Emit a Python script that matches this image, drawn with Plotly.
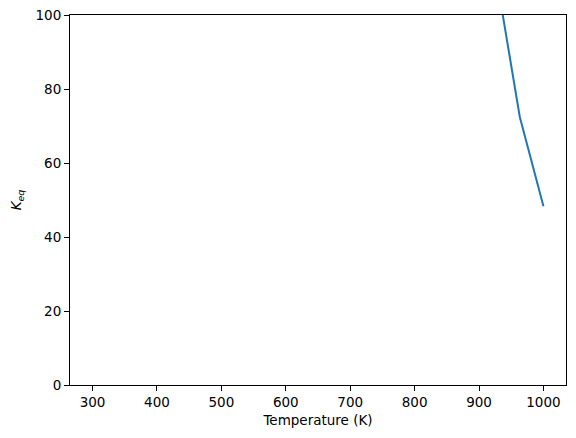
import plotly.graph_objects as go

# visible part of the Keq curve (earlier points are above the y limit)
temperature = [926.3, 963.2, 1000.0]
keq = [111.0, 72.5, 48.3]

x_ticks = [300, 400, 500, 600, 700, 800, 900, 1000]
y_ticks = [0, 20, 40, 60, 80, 100]

fig = go.Figure(go.Scatter(
    x=temperature,
    y=keq,
    mode='lines',
    line=dict(color='#1f77b4', width=2),
    showlegend=False,
))

axis_style = dict(
    showline=True,
    linecolor='black',
    linewidth=1,
    mirror=True,
    ticks='outside',
    ticklen=5,
    tickwidth=1,
    tickcolor='black',
    showgrid=False,
    zeroline=False,
    automargin=False,
    ticklabeloverflow='allow',
    tickfont=dict(family='DejaVu Sans', size=13.5, color='black'),
)

# page body adds ~8px offset, margins compensate for it
fig.update_layout(
    width=576,
    height=438,
    paper_bgcolor='white',
    plot_bgcolor='white',
    margin=dict(l=62, r=18, t=7, b=61),
    font=dict(family='DejaVu Sans', size=13.5, color='black'),
    xaxis=dict(
        range=[265, 1035],
        tickvals=x_ticks,
        title=dict(text='Temperature (K)', standoff=6,
                   font=dict(family='DejaVu Sans', size=13.5)),
        **axis_style
    ),
    yaxis=dict(
        range=[0, 100],
        tickvals=y_ticks,
        title=dict(text='<i>K</i><sub><i>eq</i></sub>', standoff=12,
                   font=dict(family='DejaVu Sans', size=13.5)),
        **axis_style
    ),
)

fig.write_html("out.html")
